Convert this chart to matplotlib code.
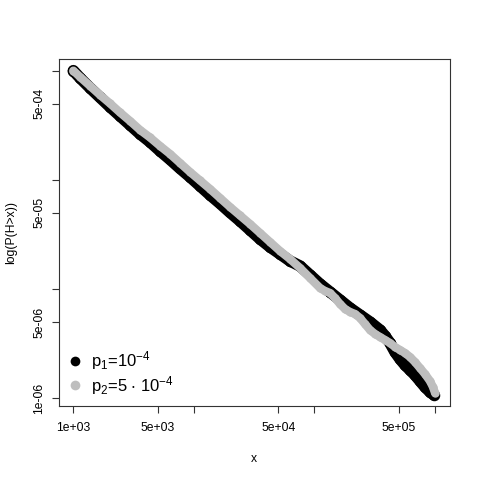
import matplotlib
matplotlib.use("Agg")
import matplotlib.pyplot as plt
from matplotlib.lines import Line2D

plt.rcParams['font.family'] = ['Liberation Sans', 'DejaVu Sans']
plt.rcParams['mathtext.fontset'] = 'custom'
plt.rcParams['mathtext.rm'] = 'Liberation Sans'
plt.rcParams['mathtext.default'] = 'regular'

# ---- data ----
black_x = [1000, 1136, 1376, 1665, 2016, 2439, 2953, 3574, 4325, 5235, 6337, 7669,
           9283, 11240, 13600, 16460, 19930, 24120, 29190, 35330, 42760, 51760,
           62650, 75830, 91780, 111100, 134500, 162700, 197000, 238400, 288600,
           349300, 384300, 422700, 465100, 511700, 562900, 619400, 681300, 749600,
           824800, 907300, 979200]
black_y = [1.0e-3, 8.574e-4, 6.943e-4, 5.683e-4, 4.651e-4, 3.847e-4, 3.182e-4,
           2.632e-4, 2.223e-4, 1.839e-4, 1.537e-4, 1.272e-4, 1.063e-4, 8.790e-5,
           7.272e-5, 6.078e-5, 5.028e-5, 4.203e-5, 3.477e-5, 2.876e-5, 2.429e-5,
           2.096e-5, 1.808e-5, 1.627e-5, 1.346e-5, 1.113e-5, 9.406e-6, 7.947e-6,
           6.712e-6, 5.791e-6, 4.996e-6, 4.221e-6, 3.719e-6, 3.209e-6, 2.655e-6,
           2.291e-6, 2.018e-6, 1.816e-6, 1.634e-6, 1.440e-6, 1.269e-6, 1.142e-6,
           1.072e-6]

gray_x = [1000, 1136, 1376, 1665, 2016, 2439, 2953, 3574, 4325, 5235, 6337, 7669,
          9283, 11240, 13600, 16460, 19930, 24120, 29190, 35330, 42760, 51760,
          62650, 75830, 91780, 111100, 122200, 134500, 147900, 162700, 179000,
          197000, 216700, 238400, 262300, 288600, 317500, 349300, 384300, 422700,
          465100, 511700, 562900, 619400, 681300, 749600, 824800, 907300, 960700,
          1000000]
gray_y = [1.0e-3, 8.757e-4, 7.244e-4, 5.990e-4, 5.007e-4, 4.142e-4, 3.462e-4,
          2.864e-4, 2.445e-4, 2.044e-4, 1.727e-4, 1.428e-4, 1.181e-4, 9.874e-5,
          8.254e-5, 6.828e-5, 5.646e-5, 4.721e-5, 3.946e-5, 3.264e-5, 2.699e-5,
          2.233e-5, 1.886e-5, 1.560e-5, 1.263e-5, 1.023e-5, 9.607e-6, 9.211e-6,
          8.289e-6, 7.303e-6, 6.572e-6, 6.171e-6, 5.916e-6, 5.437e-6, 4.790e-6,
          4.221e-6, 3.880e-6, 3.641e-6, 3.419e-6, 3.209e-6, 2.950e-6, 2.770e-6,
          2.599e-6, 2.389e-6, 2.149e-6, 1.894e-6, 1.669e-6, 1.440e-6, 1.269e-6,
          1.118e-6]

x_ticks = [1e3, 5e3, 1e4, 5e4, 1e5, 5e5, 1e6]
x_ticklabels = ['1e+03', '5e+03', '', '5e+04', '', '5e+05', '']
y_ticks = [1e-6, 5e-6, 1e-5, 5e-5, 1e-4, 5e-4, 1e-3]
y_ticklabels = ['1e-06', '5e-06', '', '5e-05', '', '5e-04', '']
legend_labels = ['p$_1$=10$^{-4}$', 'p$_2$=5 $\\cdot$ 10$^{-4}$']

# ---- figure ----
fig = plt.figure(figsize=(4.8, 4.8), dpi=100)
ax = fig.add_axes([59/480, 74/480, 391/480, 347/480])

ax.plot(black_x, black_y, color='black', lw=8.3, solid_capstyle='round',
        solid_joinstyle='round', marker='o', ms=8.3, mew=0)
ax.plot(gray_x, gray_y, color='#bebebe', lw=6.0, solid_capstyle='round',
        solid_joinstyle='round', marker='o', ms=6.0, mew=0)

ax.set_xscale('log')
ax.set_yscale('log')
ax.set_xlim(760.3, 1.330e6)
ax.set_ylim(8.50e-7, 1.279e-3)

ax.set_xticks(x_ticks)
ax.set_xticklabels(x_ticklabels)
ax.set_yticks(y_ticks)
ax.set_yticklabels(y_ticklabels, rotation=90, va='center')
ax.minorticks_off()
ax.tick_params(axis='both', length=5.2, width=0.8, labelsize=8.7, color='#333333')
ax.tick_params(axis='x', pad=6)
ax.tick_params(axis='y', pad=4.5)
for s in ax.spines.values():
    s.set_linewidth(0.8)
    s.set_color('#333333')

ax.set_xlabel('x', fontsize=8.7)
ax.xaxis.set_label_coords(0.4987, -0.1354)
ax.set_ylabel('log(P(H>x))', fontsize=8.7)
ax.yaxis.set_label_coords(-0.106, 0.5)

handles = [Line2D([], [], ls='none', marker='o', ms=7, mew=0, color='black'),
           Line2D([], [], ls='none', marker='o', ms=7, mew=0, color='#bebebe')]
ax.legend(handles, legend_labels, loc='center left',
          bbox_to_anchor=(67/480, (480-373)/480), bbox_transform=fig.transFigure,
          frameon=False, fontsize=12, borderpad=0, borderaxespad=0,
          handlelength=1.0, handletextpad=0.45, labelspacing=0.08)

fig.savefig('out.png', dpi=100)
